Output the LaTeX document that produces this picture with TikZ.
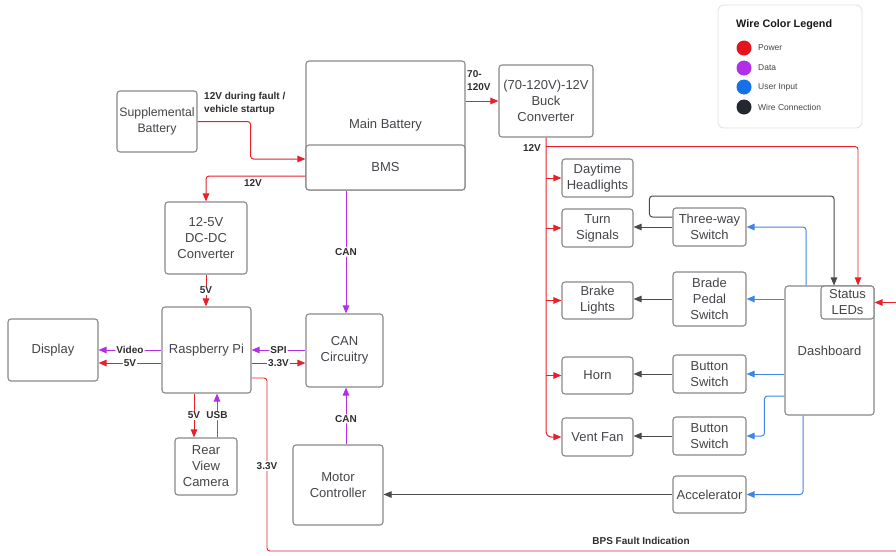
\documentclass[tikz,border=0pt]{standalone}
\usepackage{fontspec}
\setmainfont{Liberation Sans}
\usetikzlibrary{arrows.meta,calc}

\definecolor{pwrred}{HTML}{E8202A}
\definecolor{datpurple}{HTML}{B42EE8}
\definecolor{usrblue}{HTML}{3E86E2}
\definecolor{ctlblack}{HTML}{4A4A4A}
\definecolor{boxgray}{HTML}{888888}
\definecolor{txtgray}{HTML}{45454B}
\definecolor{lbldark}{HTML}{2E2E2E}
\definecolor{legred}{HTML}{E5131C}
\definecolor{legpurple}{HTML}{B12FE6}
\definecolor{legblue}{HTML}{1670E8}
\definecolor{legblack}{HTML}{23272E}

\tikzset{
  blk/.style={draw=boxgray, line width=1.1pt, rounded corners=3pt, fill=white,
    text=txtgray, align=center, inner sep=0pt, font=\fontsize{13}{16}\selectfont},
  wire/.style={line width=1pt, rounded corners=3pt, -{Triangle[length=8pt,width=6.5pt]}},
  pwr/.style={wire, draw=pwrred},
  dat/.style={wire, draw=datpurple},
  usr/.style={wire, draw=usrblue},
  ctl/.style={wire, draw=ctlblack},
  lbl/.style={font=\bfseries\fontsize{10}{13}\selectfont, text=lbldark, inner sep=1pt},
  legtxt/.style={font=\fontsize{8.5}{10}\selectfont, text=txtgray, anchor=west, inner sep=0pt},
  legdot/.style={circle, inner sep=0pt, minimum size=15pt},
}

\begin{document}
\begin{tikzpicture}[x=1pt,y=-1pt]
\useasboundingbox (0,0) rectangle (896,555);
\clip (0,0) rectangle (896,555);

% ---------- blocks ----------
\node[blk, minimum width=80pt, minimum height=61pt, font=\fontsize{12.3}{16}\selectfont] (supp) at (157,121.5) {Supplemental\\Battery};
\node[blk, minimum width=159pt, minimum height=129pt] (mainbat) at (385.5,125.5) {Main Battery};
\node[blk, minimum width=159pt, minimum height=45pt] (bms) at (385.5,167.5) {BMS};
\node[blk, minimum width=94pt, minimum height=72pt] (buck) at (546,101) {(70-120V)-12V\\Buck\\Converter};
\node[blk, minimum width=82pt, minimum height=72pt] (dcdc) at (206,238) {12-5V\\DC-DC\\Converter};
\node[blk, minimum width=89pt, minimum height=86pt] (rpi) at (206.5,350) {Raspberry Pi};
\node[blk, minimum width=90pt, minimum height=62pt] (display) at (53,350) {Display};
\node[blk, minimum width=77pt, minimum height=73pt] (can) at (344.5,350.5) {CAN\\Circuitry};
\node[blk, minimum width=90pt, minimum height=80pt] (mc) at (338,485) {Motor\\Controller};
\node[blk, minimum width=62pt, minimum height=57pt] (cam) at (206,466.5) {Rear\\View\\Camera};

\node[blk, minimum width=71pt, minimum height=38pt] (day) at (597.5,178) {Daytime\\Headlights};
\node[blk, minimum width=71pt, minimum height=38pt] (turn) at (597.5,228) {Turn\\Signals};
\node[blk, minimum width=71pt, minimum height=37pt] (brake) at (597.5,300.5) {Brake\\Lights};
\node[blk, minimum width=71pt, minimum height=37pt] (horn) at (597.5,375.5) {Horn};
\node[blk, minimum width=71pt, minimum height=38pt] (vent) at (597.5,437) {Vent Fan};

\node[blk, minimum width=73pt, minimum height=38pt] (three) at (709.5,227) {Three-way\\Switch};
\node[blk, minimum width=73pt, minimum height=54pt] (brade) at (709.5,299) {Brade\\Pedal\\Switch};
\node[blk, minimum width=73pt, minimum height=38pt] (btn1) at (709.5,374) {Button\\Switch};
\node[blk, minimum width=73pt, minimum height=38pt] (btn2) at (709.5,436) {Button\\Switch};
\node[blk, minimum width=73pt, minimum height=37pt] (accel) at (709.5,494.5) {Accelerator};

\node[blk, minimum width=89pt, minimum height=129pt] (dash) at (829.5,350.5) {Dashboard};
\node[blk, minimum width=53pt, minimum height=33pt] (leds) at (847.5,302.5) {Status\\LEDs};

% ---------- power wires ----------
\draw[pwr] (supp.east) -- ++(53,0) |- ($(bms.west)+(0,-8.5)$);
\node[lbl, anchor=north west, align=left] (faultlbl) at (203,91.5) {12V during fault /\\vehicle startup};

\draw[pwr] ($(bms.west)+(0,8.5)$) -| (dcdc.north);
\node[lbl] (v12a) at (253,183) {12V};

\draw[pwr] (mainbat.east |- buck.west) -- (buck.west);
\node[lbl, anchor=west, align=left] (v70) at (466,81) {70-\\120V};

\draw[pwr] (dcdc.south) -- (dcdc.south |- rpi.north) node[lbl, fill=white, midway] {5V};
\draw[pwr] ($(rpi.west)+(0,13)$) -- ($(rpi.west -| display.east)+(0,13)$) node[lbl, fill=white, midway] {5V};
\draw[pwr] ($(rpi.east)+(0,13)$) -- ($(rpi.east -| can.west)+(0,13)$) node[lbl, fill=white, midway] {3.3V};
\draw[pwr] ($(rpi.south)+(-12.5,0)$) -- ($(cam.north)+(-12,0)$) node[lbl, fill=white, midway] {5V};

% battery protection fault line to the status LEDs
\coordinate (fb1) at (267,551);
\coordinate (fb2) at (905,551);
\draw[pwr, line width=0.9pt] ($(rpi.east)+(0,28)$) -| (fb1) -- (fb2) |- (leds.east);
\node[lbl, fill=white] (v33) at (267,466) {3.3V};
\node[lbl] (bps) at (641,541) {BPS Fault Indication};

% 12V bus from the buck converter
\draw[pwr, rounded corners=5pt] (buck.south) |- (vent.west);
\draw[pwr] (buck.south |- day.west) -- (day.west);
\draw[pwr] (buck.south |- turn.west) -- (turn.west);
\draw[pwr] (buck.south |- brake.west) -- (brake.west);
\draw[pwr] (buck.south |- horn.west) -- (horn.west);
\draw[pwr, line width=0.9pt] ($(buck.south)+(0,9)$) -| ($(leds.north)+(10.5,0)$);
\node[lbl] (v12b) at (532,148) {12V};

% ---------- data wires ----------
\draw[dat] (rpi.west) -- (rpi.west -| display.east) node[lbl, fill=white, midway] {Video};
\draw[dat] (can.west |- rpi.east) -- (rpi.east) node[lbl, fill=white, midway] {SPI};
\draw[dat] ($(bms.south)+(-39.5,0)$) -- ($(can.north)+(1.5,0)$) node[lbl, fill=white, midway] {CAN};
\draw[dat] ($(mc.north)+(8,0)$) -- ($(can.south)+(1.5,0)$) node[lbl, fill=white, pos=0.45] {CAN};
\draw[dat] ($(cam.north)+(11,0)$) -- ($(rpi.south)+(10.5,0)$) node[lbl, fill=white, pos=0.5] {USB};

% ---------- user input wires ----------
\draw[usr] ($(dash.north)+(-23.5,0)$) |- (three.east);
\draw[usr] (dash.west |- brade.east) -- (brade.east);
\draw[usr] (dash.west |- btn1.east) -- (btn1.east);
\draw[usr] ($(dash.west)+(0,45.5)$) -- ++(-20,0) |- (btn2.east);
\draw[usr] ($(dash.south)+(-26.5,0)$) |- (accel.east);

% ---------- switch to load wires ----------
\draw[ctl] (three.west) -- (three.west -| turn.east);
\draw[ctl] ($(three.west)+(0,-10)$) -- ++(-23,0) -- ++(0,-21) -| ($(leds.north)+(-13.5,0)$);
\draw[ctl] (brade.west) -- (brade.west -| brake.east);
\draw[ctl] (btn1.west) -- (btn1.west -| horn.east);
\draw[ctl] (btn2.west) -- (btn2.west -| vent.east);
\draw[ctl] (accel.west) -- (accel.west -| mc.east);

% ---------- legend ----------
\node[draw=gray!25, line width=0.8pt, rounded corners=6pt, minimum width=144pt, minimum height=123pt, fill=white] (legend) at (790,66.5) {};
\node[font=\bfseries\fontsize{10.8}{12}\selectfont, anchor=west, inner sep=0pt, text=black!90] (legtitle) at (736,25) {Wire Color Legend};
\node[legdot, fill=legred] (kpow) at (744,48) {};
\node[legdot, fill=legpurple] (kdat) at (744,68) {};
\node[legdot, fill=legblue] (kusr) at (744,87) {};
\node[legdot, fill=legblack] (kcon) at (744,107) {};
\node[legtxt] (tpow) at (758,48) {Power};
\node[legtxt] (tdat) at (758,68) {Data};
\node[legtxt] (tusr) at (758,87) {User Input};
\node[legtxt] (tcon) at (758,107) {Wire Connection};
\end{tikzpicture}
\end{document}
